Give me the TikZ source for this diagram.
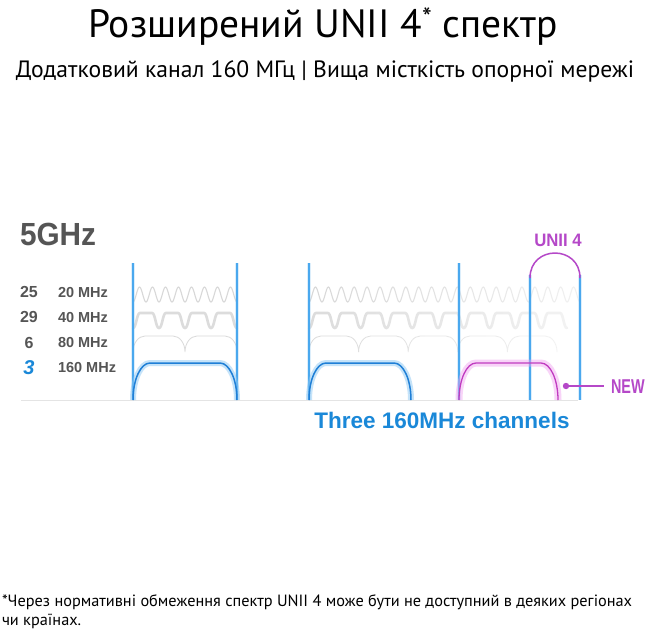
\documentclass[tikz,border=0pt]{standalone}
\usepackage{fontspec}
\setmainfont{PT Sans}
\newfontfamily\ttl{PT Sans}
\newfontfamily\cndw{Liberation Sans}
\newfontfamily\cnda[FakeStretch=0.93]{Liberation Sans}
\newfontfamily\cndn[FakeStretch=0.72]{Liberation Sans}
\usetikzlibrary{fadings}
\definecolor{lbl}{HTML}{555555}
\definecolor{bluet}{HTML}{1A88D8}
\definecolor{bluel}{HTML}{4AA8EE}
\definecolor{bluec}{HTML}{1F7FD6}
\definecolor{blueglow}{HTML}{8CC8F5}
\definecolor{mag}{HTML}{B548C8}
\definecolor{magc}{HTML}{C03CC0}
\definecolor{magglow}{HTML}{F0A0F0}
\definecolor{wave}{HTML}{D8D8D8}
\tikzfading[name=fadeR, left color=transparent!0, middle color=transparent!0, right color=transparent!65]
\tikzset{
  every node/.style={inner sep=0pt, outer sep=0pt},
  w20/.style={wave, line width=1.1pt},
  w40/.style={wave!90, line width=2.6pt, line cap=round},
  w80/.style={wave!95, line width=0.8pt},
  vglow/.style={blueglow, line width=4pt, opacity=0.3},
  vline/.style={bluel, line width=1.1pt},
  txtlbl/.style={text=lbl, font=\cndw\bfseries\fontsize{14.5}{16}\selectfont},
  numlbl/.style={text=lbl, font=\cndw\bfseries\fontsize{16}{18}\selectfont},
}
% bump row: #1 style, #2 x0, #3 width, #4 count, #5 y bottom, #6 y top, #7 corner
\newcommand\bumprow[7]{%
  \draw[#1] (#2,#5) \foreach \i in {1,...,#4}{
    .. controls ({#2+(\i-1)*#3},{#5-0.552*(#5-#6)}) and ({#2+(\i-1)*#3+0.448*#7},#6) .. ({#2+(\i-1)*#3+#7},#6)
    -- ({#2+\i*#3-#7},#6)
    .. controls ({#2+\i*#3-0.448*#7},#6) and ({#2+\i*#3},{#5-0.552*(#5-#6)}) .. ({#2+\i*#3},#5) };
}
% dip row (U-shaped dips): #1 style, #2 x0, #3 width, #4 count, #5 y bottom, #6 y top, #7 dip half-width
\newcommand\diprow[7]{%
  \draw[#1] (#2,#5) \foreach \i in {1,...,#4}{
    .. controls ({#2+(\i-1)*#3+0.5*#7},#5) and ({#2+(\i-1)*#3+0.5*#7},#6) .. ({#2+(\i-1)*#3+#7},#6)
    -- ({#2+\i*#3-#7},#6)
    .. controls ({#2+\i*#3-0.5*#7},#6) and ({#2+\i*#3-0.5*#7},#5) .. ({#2+\i*#3},#5) };
}
% sine row: #1 style, #2 x0, #3 period, #4 count, #5 y bottom, #6 y top
\newcommand\sinerow[6]{%
  \draw[#1] (#2,#5) \foreach \i in {1,...,#4}{
    .. controls ({#2+(\i-1+0.18)*#3},#5) and ({#2+(\i-1+0.32)*#3},#6) .. ({#2+(\i-1+0.5)*#3},#6)
    .. controls ({#2+(\i-1+0.68)*#3},#6) and ({#2+(\i-1+0.82)*#3},#5) .. ({#2+\i*#3},#5) };
}
\begin{document}
\begin{tikzpicture}[x=1pt,y=-1pt]
\useasboundingbox (0,0) rectangle (648,630);
\fill[white] (0,0) rectangle (648,630);

% titles
\node (title) [anchor=base] at (323,37) {\ttl\fontsize{39.5}{46}\selectfont Розширений UNII 4\textsuperscript{*} спектр};
\node (subtitle) [anchor=base] at (325,77) {\ttl\fontsize{23.6}{28}\selectfont Додатковий канал 160 МГц | Вища місткість опорної мережі};

% 5GHz and row labels
\node (ghz) [anchor=base west, text=lbl, font=\cnda\bfseries\fontsize{32}{36}\selectfont] at (20,245) {5GHz};
\node (n25) [anchor=base, numlbl] at (29,297.5) {25};
\node (n29) [anchor=base, numlbl] at (29,322.5) {29};
\node (n6)  [anchor=base, numlbl] at (29,348) {6};
\node (n3)  [anchor=base, text=bluet, font=\cndw\bfseries\itshape\fontsize{20}{22}\selectfont] at (29,374) {3};
\node (m20) [anchor=base west, txtlbl] at (58,297) {20 MHz};
\node (m40) [anchor=base west, txtlbl] at (58,322) {40 MHz};
\node (m80) [anchor=base west, txtlbl] at (58,347.5) {80 MHz};
\node (m160) [anchor=base west, txtlbl] at (58,372) {160 MHz};

% baseline
\draw[wave!70, line width=0.8pt] (21,400) -- (578,400);

% block 1 waves
\sinerow{w20}{133}{13}{8}{302}{287}
\diprow{w40}{133}{26}{4}{328}{313}{7}
\bumprow{w80}{133}{52}{2}{352}{336}{12}

% block 2 waves (fading right)
\sinerow{w20, path fading=fadeR}{309}{12.905}{21}{302}{287}
\diprow{w40, path fading=fadeR}{309}{25.8}{10}{328}{313}{7}
\bumprow{w80, path fading=fadeR}{309}{49.6}{5}{352}{336}{12}

% blue vertical lines
\foreach \xx/\yt in {133/263, 237/263, 309/263, 459/263, 530/275, 580/275}{
  \draw[vglow] (\xx,\yt) -- (\xx,400);
  \draw[vline] (\xx,\yt) -- (\xx,400);
}

% 160 MHz channels
\bumprow{blueglow, line width=6pt, opacity=0.5}{133}{104}{1}{400}{363}{17}
\bumprow{bluec, line width=1.5pt}{133}{104}{1}{400}{363}{17}
\bumprow{blueglow, line width=6pt, opacity=0.5}{309}{102}{1}{400}{363}{17}
\bumprow{bluec, line width=1.5pt}{309}{102}{1}{400}{363}{17}
\bumprow{magglow, line width=7pt, opacity=0.45}{459}{99}{1}{400}{363}{17}
\bumprow{magc, line width=1.3pt}{459}{99}{1}{400}{363}{17}

% UNII 4 arc
\draw[mag, line width=1.5pt] (530,278) .. controls (530,244.7) and (580,244.7) .. (580,278);
\node (unii) [anchor=base, text=mag, font=\cnda\bfseries\fontsize{18}{20}\selectfont] at (558,246.5) {UNII 4};

% NEW
\node (newlbl) [anchor=base west, text=mag, font=\cndn\bfseries\fontsize{20}{22}\selectfont] at (611,393.5) {NEW};
\coordinate (newdot) at (566,386);
\draw[mag, line width=1.3pt] (newdot) -- ([xshift=-7pt]newlbl.west |- newdot);
\fill[mag] (newdot) circle (3.2);

% Three channels
\node (three) [anchor=base, text=bluet, font=\cndw\bfseries\fontsize{22.5}{24}\selectfont] at (442,428) {Three 160MHz channels};

% footnote
\node (fn1) [anchor=base west] at (2,606) {\ttl\fontsize{16.3}{18}\selectfont *Через нормативні обмеження спектр UNII 4 може бути не доступний в деяких регіонах};
\node (fn2) [anchor=base west] at (2,625) {\ttl\fontsize{16.3}{18}\selectfont чи країнах.};
\end{tikzpicture}
\end{document}
